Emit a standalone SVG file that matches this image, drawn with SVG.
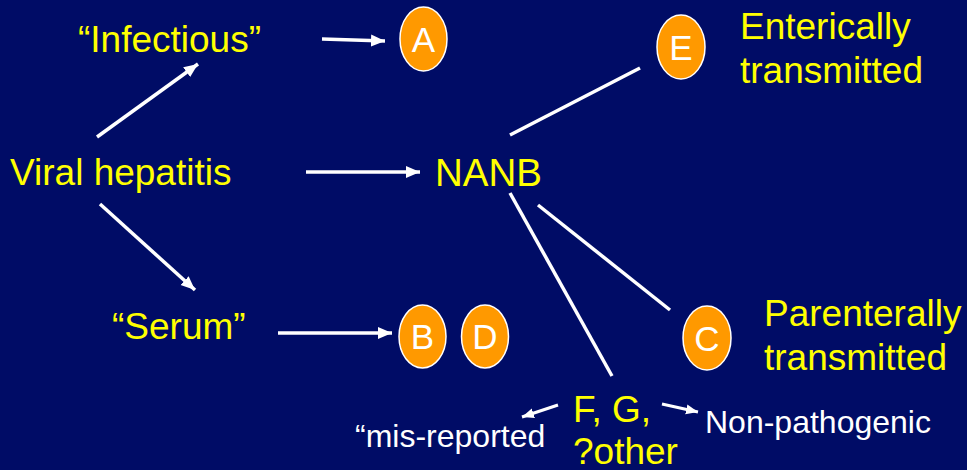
<svg xmlns="http://www.w3.org/2000/svg" width="967" height="470" viewBox="0 0 967 470">
<style>
.bg{fill:#000C66}
.y{fill:#FFFF00;font-family:"Liberation Sans",Arial,sans-serif;font-size:37px}
.w{fill:#FFFFFF;font-family:"Liberation Sans",Arial,sans-serif;font-size:32px}
.c ellipse{fill:#FF9900;stroke:#FFFFFF;stroke-width:1.5}
.c text{fill:#FFFFFF;font-family:"Liberation Sans",Arial,sans-serif;font-size:35px;text-anchor:middle}
.ln{stroke:#FFFFFF;stroke-width:3.5;fill:none}
.ar{stroke:#FFFFFF;stroke-width:3.5;fill:none;marker-end:url(#ah)}
.ars{stroke:#FFFFFF;stroke-width:3;fill:none;marker-end:url(#ahs)}
</style>
<defs>
<marker id="ah" markerUnits="userSpaceOnUse" markerWidth="16" markerHeight="14" refX="14" refY="6" orient="auto" viewBox="0 0 16 12">
<path d="M0,0 L14,6 L0,12 Z" fill="#FFFFFF"/>
</marker>
<marker id="ahs" markerUnits="userSpaceOnUse" markerWidth="14" markerHeight="12" refX="12" refY="5" orient="auto" viewBox="0 0 14 10">
<path d="M0,0 L12,5 L0,10 Z" fill="#FFFFFF"/>
</marker>
</defs>
<rect class="bg" x="0" y="0" width="967" height="470"/>
<g id="connectors">
<line class="ar" x1="97" y1="137" x2="198" y2="64"/>
<line class="ar" x1="100" y1="204" x2="195" y2="290"/>
<line class="ar" x1="306" y1="172" x2="420" y2="172"/>
<line class="ar" x1="322" y1="39" x2="385" y2="41"/>
<line class="ar" x1="278" y1="333" x2="392" y2="333"/>
<line class="ln" x1="510" y1="135" x2="640" y2="68"/>
<line class="ln" x1="538" y1="205" x2="670" y2="310"/>
<line class="ln" x1="510" y1="193" x2="612" y2="376"/>
<line class="ars" x1="558" y1="405" x2="522" y2="417"/>
<line class="ars" x1="662" y1="404" x2="698" y2="412"/>
</g>
<g id="viral"><text class="y" x="10" y="185">Viral hepatitis</text></g>
<g id="infectious"><text class="y" x="78" y="52">“Infectious”</text></g>
<g id="serum"><text class="y" x="112" y="339">“Serum”</text></g>
<g id="nanb"><text class="y" x="435" y="186" style="font-size:38.5px">NANB</text></g>
<g id="nodeA" class="c"><ellipse cx="423.5" cy="39" rx="23.5" ry="32"/><text x="423.5" y="52">A</text></g>
<g id="nodeB" class="c"><ellipse cx="422.5" cy="336.5" rx="23.5" ry="31.5"/><text x="422.5" y="349">B</text></g>
<g id="nodeD" class="c"><ellipse cx="485" cy="336.5" rx="23.5" ry="31.5"/><text x="485" y="349">D</text></g>
<g id="nodeE" class="c"><ellipse cx="681" cy="47" rx="24" ry="32"/><text x="681" y="60">E</text></g>
<g id="nodeC" class="c"><ellipse cx="707" cy="338" rx="24" ry="32"/><text x="707" y="351">C</text></g>
<g id="enteric"><text class="y" x="740" y="39">Enterically</text><text class="y" x="740" y="83">transmitted</text></g>
<g id="parenteral"><text class="y" x="764" y="326">Parenterally</text><text class="y" x="764" y="370">transmitted</text></g>
<g id="fg"><text class="y" x="573" y="422">F, G,</text><text class="y" x="573" y="464">?other</text></g>
<g id="misreported"><text class="w" x="355" y="447">“mis-reported</text></g>
<g id="nonpath"><text class="w" x="705" y="433">Non-pathogenic</text></g>
</svg>
